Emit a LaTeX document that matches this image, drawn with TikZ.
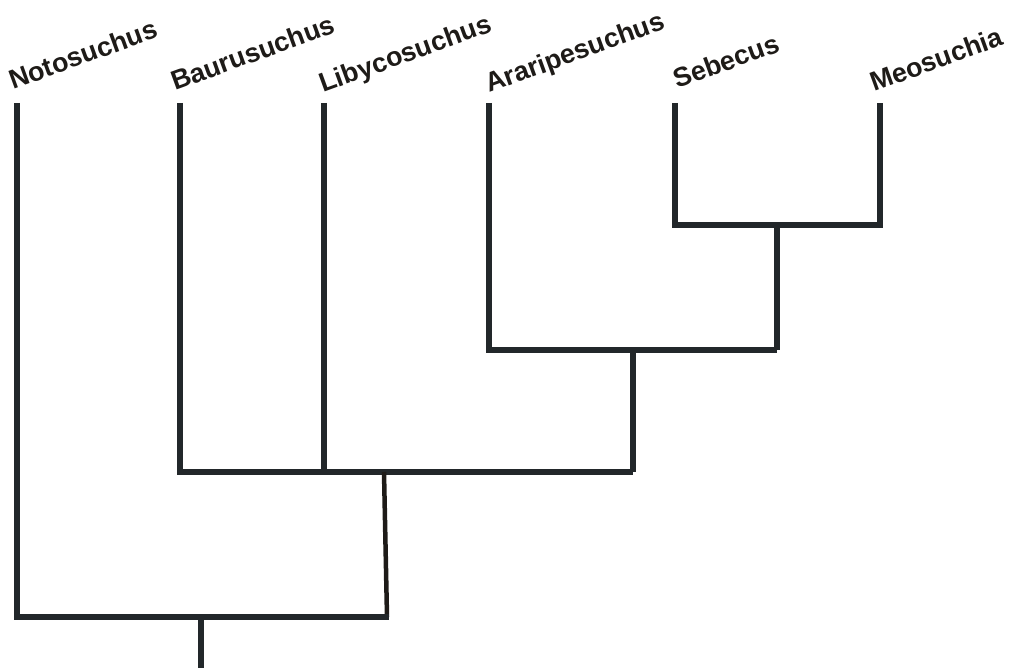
\documentclass[tikz,border=0pt]{standalone}
\usepackage{fontspec}
\setmainfont{Liberation Sans}
\definecolor{branch}{HTML}{22272A}
\definecolor{labelc}{HTML}{1E1B18}
\begin{document}
\begin{tikzpicture}[x=1bp,y=-1bp,
  br/.style={draw=branch,line width=5.5bp,line cap=butt,line join=miter},
  thinbr/.style={draw=labelc,line width=4.5bp},
  taxon/.style={anchor=base west,rotate=20,inner sep=0pt,text=labelc,font=\bfseries\fontsize{27}{27}\selectfont}]
\useasboundingbox (0,0) rectangle (1016,668);
% tips
\coordinate (tN) at (17,103);
\coordinate (tB) at (180,103);
\coordinate (tL) at (324,103);
\coordinate (tA) at (489,103);
\coordinate (tS) at (675,103);
\coordinate (tM) at (880,103);
% corners and junctions
\coordinate (cS) at (675,225);
\coordinate (cM) at (880,225);
\coordinate (jSM) at (777,225);
\coordinate (cA) at (489,350);
\coordinate (cSM) at (777,350);
\coordinate (jASM) at (633,350);
\coordinate (cB) at (180,472);
\coordinate (cL) at (324,472);
\coordinate (cASM) at (633,472);
\coordinate (jTop) at (384,472);
\coordinate (cN) at (17,617);
\coordinate (cTop) at (387,617);
\coordinate (root) at (201,617);
\coordinate (rootEnd) at (201,668);
% labels
\node[taxon] (lN) at (13,90) {Notosuchus};
\node[taxon] (lB) at (175,91) {Baurusuchus};
\node[taxon] (lL) at (323,93) {Libycosuchus};
\node[taxon] (lA) at (489,93) {Araripesuchus};
\node[taxon] (lS) at (677,89) {Sebecus};
\node[taxon] (lM) at (874,92) {Meosuchia};
% branches
\draw[br] (tS) -- (cS) -- (cM) -- (tM);
\draw[br] (jSM) -- (cSM);
\draw[br] (tA) -- (cA) -- (cSM);
\draw[br] (jASM) -- (cASM);
\draw[br] (tB) -- (cB) -- (cASM);
\draw[br] (tL) -- (cL);
\draw[thinbr] (jTop) -- (cTop);
\draw[br] (tN) -- (cN) -- ([xshift=2bp]cTop);
\draw[br] (root) -- (rootEnd);
\end{tikzpicture}
\end{document}
